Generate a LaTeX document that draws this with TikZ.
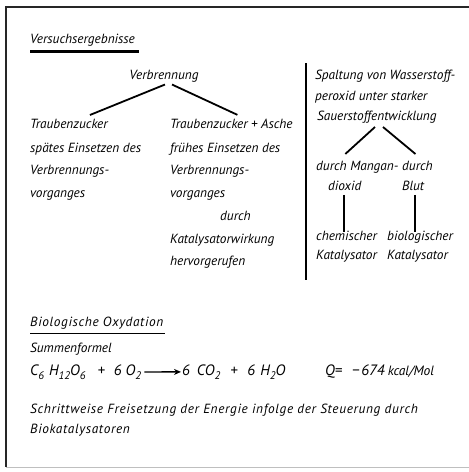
\documentclass[tikz,border=0pt]{standalone}
\usepackage{fontspec}
\setmainfont{PT Sans}
\usetikzlibrary{arrows.meta}
% lowered index figures in the formula
\newcommand\idx[1]{\raisebox{-3.5pt}{\fontsize{11}{11}\selectfont #1}}
\begin{document}
\begin{tikzpicture}[x=1pt,y=-1pt,
  txt/.style={anchor=mid west, inner sep=0pt, font=\itshape\fontsize{13.3}{15}\selectfont},
  wide/.style={txt, font=\itshape\fontsize{13.3}{15}\selectfont\addfontfeature{LetterSpace=5}},
  formula/.style={txt, font=\itshape\fontsize{15}{17}\selectfont},
  branch/.style={line width=1.8pt},
  frame/.style={line width=1.8pt, black!85}]
\useasboundingbox (0,0) rectangle (469,472);
\fill[white] (0,0) rectangle (469,472);
% frame
\draw[frame] (469,7) -- (6,7) -- (6,467);
\draw[line width=0.8pt, black!25] (6,467) -- (469,467);

% heading
\node[txt] (head) at (30,41) {Versuchsergebnisse};
\draw[line width=2.2pt] ([yshift=-5pt]head.south west) -- ++(109,0);

% left tree
\node[txt,anchor=mid] (verb) at (164,77) {Verbrennung};
\node[txt] (tz1) at (30,126) {Traubenzucker};
\node[txt] (tz2) at (170,126) {Traubenzucker + Asche};
\draw[branch] ([xshift=1pt,yshift=-2pt]verb.south) -- ([xshift=21pt,yshift=4pt]tz1.north);
\draw[branch] ([xshift=8pt,yshift=-2pt]verb.south) -- ([xshift=6pt,yshift=4pt]tz2.north);
\node[txt] (sp1) at (30,150) {spätes Einsetzen des};
\node[txt] (fr1) at (170,150) {frühes Einsetzen des};
\node[txt] (vb1) at (30,172) {Verbrennungs-};
\node[txt] (vb2) at (170,172) {Verbrennungs-};
\node[txt] (vg1) at (30,195) {vorganges};
\node[txt] (vg2) at (170,195) {vorganges};
\node[txt] (dur) at (220,218) {durch};
\node[txt] (kat) at (170,241) {Katalysatorwirkung};
\node[txt] (herv) at (170,263) {hervorgerufen};

% divider
\coordinate (dtop) at (306,63);
\coordinate (dbot) at (306,280);
\draw[line width=1.8pt] (dtop) -- (dbot);

% right tree
\node[txt] (r1) at (315,77) {Spaltung von Wasserstoff-};
\node[txt] (r2) at (315,98) {peroxid unter starker};
\node[txt] (r3) at (317,118) {Sauerstoffentwicklung};
\node[txt] (mn) at (316,168) {durch Mangan-};
\node[txt] (bl) at (402,168) {durch};
\node[txt] (mn2) at (328,188) {dioxid};
\node[txt] (bl2) at (402,188) {Blut};
\node[txt] (ch) at (316,238) {chemischer};
\node[txt] (bi) at (387,238) {biologischer};
\node[txt] (ck) at (316,257) {Katalysator};
\node[txt] (bk) at (387,257) {Katalysator};
\coordinate (rs) at (379,127);
\draw[branch] ([xshift=-4pt]rs) -- ([xshift=-12pt,yshift=7pt]mn.north);
\draw[branch] ([xshift=4pt]rs) -- ([xshift=-2pt,yshift=7pt]bl.north);
\draw[branch] ([xshift=-1pt,yshift=-4pt]mn2.south) -- ([xshift=-1pt,yshift=-1pt]mn2.south |- ch.north);
\draw[branch] ([xshift=2pt,yshift=-4pt]bl2.south) -- ([xshift=2pt,yshift=-1pt]bl2.south |- bi.north);

% lower section
\node[wide] (bio) at (30,324) {Biologische Oxydation};
\draw[line width=1.2pt] ([yshift=-4pt]bio.south west) -- ++(135,0);
\node[txt] (sum) at (30,350) {Summenformel};
\node[formula] (eqL) at (30,373) {C\idx{6}\hspace{5pt}H\idx{12}O\idx{6}\hspace{12pt}+\hspace{9pt}6\hspace{4pt}O\idx{2}};
\node[formula] (eqR) at (182,373) {6\hspace{7pt}CO\idx{2}\hspace{10pt}+\hspace{10pt}6\hspace{5pt}H\idx{2}O};
\draw[line width=1.4pt,-{Stealth[length=7pt,width=6pt]}] ([xshift=3pt]eqL.east) -- ([xshift=-1pt]eqR.west);
\node[formula] (q) at (325,373) {Q=\hspace{10pt}−\hspace{2pt}674\hspace{3pt}{\fontsize{13.5}{15}\selectfont kcal/Mol}};
\node[wide] (s1) at (30,411) {Schrittweise Freisetzung der Energie infolge der Steuerung durch};
\node[wide] (s2) at (30,431) {Biokatalysatoren};
\end{tikzpicture}
\end{document}
